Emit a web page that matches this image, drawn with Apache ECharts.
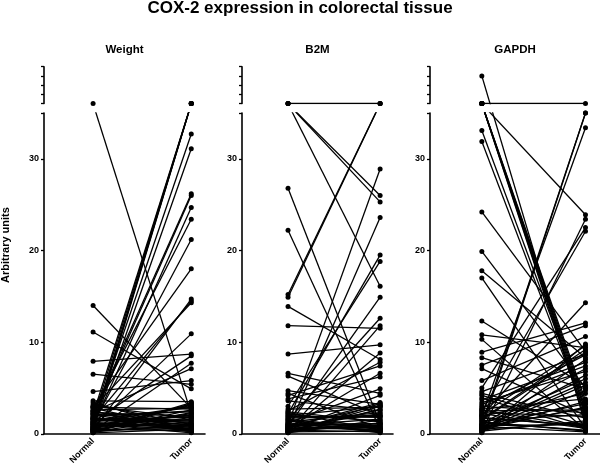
<!DOCTYPE html>
<html><head><meta charset="utf-8">
<script src="https://cdn.jsdelivr.net/npm/echarts@6/dist/echarts.min.js"></script>
<style>html,body{margin:0;padding:0;background:#fff}#c{width:600px;height:467px}</style>
</head><body><div id="c"></div>
<script>
const chartTitle = 'COX-2 expression in colorectal tissue';
const yAxisName = 'Arbitrary units';
const groupLabels = ['Normal', 'Tumor'];
const panelTitles = ['Weight', 'B2M', 'GAPDH'];
const yTickLabels = [0, 10, 20, 30];

const weightNormal = [0.5,1.0,1.6,0.8,2.1, 1.2,0.6,2.2,1.8,0.9,2.5,1.1,3.0, 0.4,1.6,2.8,0.7,7.9,1.3,0.3,2.4, 6.5,11.1,14.0,36,4.6,3.6,3.2,
  0.1,0.2,0.3,0.5,0.6,0.8,1.0,1.2,1.4,1.6,1.8,2.0,2.2,2.4,2.6,2.8,3.0, 0.2,0.4,0.7,0.9,1.1,1.3,1.5,1.7,1.9,2.1,2.3, 0.1,0.3,0.5,0.6,1.0,1.4,2.5,2.9, 0.2,0.8,1.2,1.6,3.4,0.4];
const weightTumor = [36,36,36,36,36, 32.7,31.1,26.2,26.0,24.7,23.4,21.2,18.0, 14.7,14.5,14.3,10.9,8.7,8.5,7.7,7.1, 5.4,4.9,2.8,2.2,5.8,3.5,1.0,
  0.5,1.8,2.6,0.3,3.2,1.2,2.0,0.8,3.0,1.5,0.2,2.4,0.9,1.1,2.8,0.4,1.7, 3.4,0.6,2.2,1.0,0.1,2.9,1.4,0.7,2.5,0.3,1.9, 3.3,0.9,1.6,2.1,0.5,1.3,0.2,2.7, 1.0,3.1,0.6,1.8,0.3,2.3];

const b2mNormal = [36,36,36,36, 15.2,14.9, 26.8,22.2, 1.0,0.5,2.2,3.0,0.8,1.5,11.8,0.2,8.7,0.3,13.9,2.5,4.2,0.6,3.8,1.2,6.6,6.3,4.7,0.4,2.0,
  0.1,0.2,0.4,0.5,0.7,0.9,1.1,1.3,1.6,1.9,2.3,2.7, 0.3,0.6,0.8,1.0,1.4,1.8,2.1, 0.2,0.5,0.9,1.2,0.1,0.3,0.7,1.5,2.4, 4.4,3.6,0.4,1.7,0.6,0.2,0.8,1.0];
const b2mTumor = [36,26.0,25.3,16.1, 36,36, 1.1,0.5, 28.9,23.6,19.5,18.8,14.9,12.6,11.5,11.8,9.7,8.8,8.1,7.8,7.4,6.6,6.2,4.9,4.4,2.0,3.2,4.2,3.0,
  1.5,0.3,2.6,0.8,3.4,1.1,0.2,2.3,0.6,1.8,0.4,2.9, 1.2,0.5,3.1,0.9,0.1,2.0,1.4, 2.7,0.7,1.6,0.3,3.3,1.0,2.2,0.5,1.3, 0.6,2.5,0.2,1.9,0.8,3.0,0.4,1.1];

const gapdhNormal = [39,36, 36,36,36,36,36,36,36,33.1,31.9, 1.0,0.6,2.0, 24.2,19.9,17.8,17.0,12.3,2.0, 10.8,10.3,8.9,8.3,7.5,7.1,5.8,4.6,4.2,3.7,3.2,2.7, 5.0,2.4,0.3,
  0.1,0.2,0.4,0.5,0.7,0.9,1.1,1.3,1.6,1.9,2.2,2.5,2.8, 0.3,0.6,0.8,1.0,1.4,1.8,2.1, 4.4,3.9,3.4,3.0, 0.2,0.5,0.9,1.2,1.5,2.3,2.6, 0.4,0.7,1.7];
const gapdhTumor = [1.0,36, 3.6,3.2,2.8,2.4,1.9,1.5,23.9,2.6,2.2, 35.0,35.0,33.4, 9.0,5.0,8.3,0.6,5.2,14.3, 9.4,0.4,12.1,4.9,11.8,2.0,10.6,8.7,0.9,7.8,7.4,3.8, 22.5,22.1,23.4,
  9.8,8.1,6.4,2.9,5.6,1.0,7.1,0.3,9.2,4.4,0.6,2.6,8.6, 1.4,3.5,0.2,6.0,2.1,0.8,9.6, 1.7,0.5,6.8,2.3, 4.7,1.2,3.3,0.4,8.9,1.9,0.7, 5.3,2.8,0.9];

const FONT = '"Liberation Sans", Arial, Helvetica, sans-serif';
const panels = [
  { title: panelTitles[0], normal: weightNormal, tumor: weightTumor, left: 44, width: 161 },
  { title: panelTitles[1], normal: b2mNormal, tumor: b2mTumor, left: 242, width: 151 },
  { title: panelTitles[2], normal: gapdhNormal, tumor: gapdhTumor, left: 430, width: 170 }
];
const LOW_TOP = 113, LOW_H = 322, UP_TOP = 66.7, UP_H = 36.8;
const axisLineStyle = { color: '#000', width: 1.6 };

const grid = [], xAxis = [], yAxis = [], series = [];
const graphic = [];
panels.forEach((p, i) => {
  grid.push({ left: p.left, top: LOW_TOP, width: p.width, height: LOW_H });
  grid.push({ left: p.left, top: UP_TOP, width: p.width, height: UP_H });
  xAxis.push({
    gridIndex: 2 * i, type: 'value', min: -0.5, max: 1.14, interval: 0.5,
    axisLine: { show: true, onZero: false, lineStyle: axisLineStyle },
    axisTick: { show: false }, splitLine: { show: false },
    axisLabel: { show: true, rotate: 45, margin: 6, color: '#000', fontFamily: FONT, fontWeight: 'bold', fontSize: 9,
      showMaxLabel: false, showMinLabel: false,
      formatter: v => (v === 0 ? groupLabels[0] : (v === 1 ? groupLabels[1] : '')) }
  });
  xAxis.push({ gridIndex: 2 * i + 1, type: 'value', min: -0.5, max: 1.14, show: false });
  yAxis.push({
    gridIndex: 2 * i, type: 'value', min: 0, max: 35, interval: 10,
    axisLine: { show: true, onZero: false, lineStyle: axisLineStyle },
    axisTick: { show: true, length: 3, lineStyle: { color: '#000', width: 1.3 } },
    axisLabel: { color: '#000', fontFamily: FONT, fontWeight: 'bold', fontSize: 9, margin: 5,
      formatter: v => (yTickLabels.indexOf(v) >= 0 ? String(v) : '') },
    splitLine: { show: false }
  });
  yAxis.push({
    gridIndex: 2 * i + 1, type: 'value', min: 36, max: 40, interval: 1,
    axisLine: { show: true, onZero: false, lineStyle: axisLineStyle },
    axisTick: { show: true, length: 3, lineStyle: { color: '#000', width: 1.3 } },
    axisLabel: { show: false }, splitLine: { show: false }
  });
  p.normal.forEach((n, j) => {
    const d = [[0, n], [1, p.tumor[j]]];
    [2 * i, 2 * i + 1].forEach(g => {
      series.push({
        type: 'line', xAxisIndex: g, yAxisIndex: g, data: d,
        symbol: 'circle', symbolSize: 5, showSymbol: true, clip: true, silent: true,
        animation: false, lineStyle: { color: '#000', width: 1.3 }, itemStyle: { color: '#000' },
        emphasis: { disabled: true }
      });
    });
  });
  graphic.push({
    type: 'text', x: p.left + p.width / 2, y: 50,
    style: { text: p.title, fontFamily: FONT, fontWeight: 'bold', fontSize: 11.5, fill: '#000',
      textAlign: 'center', textVerticalAlign: 'middle' }
  });
});
graphic.push({
  type: 'text', x: 6, y: 245, rotation: Math.PI / 2,
  style: { text: yAxisName, fontFamily: FONT, fontWeight: 'bold', fontSize: 11, fill: '#000',
    textAlign: 'center', textVerticalAlign: 'middle' }
});

const chart = echarts.init(document.getElementById('c'), null, { renderer: 'canvas' });
chart.setOption({
  backgroundColor: '#fff',
  animation: false,
  title: { text: chartTitle, left: 'center', top: 0, padding: 0,
    textStyle: { fontFamily: FONT, fontWeight: 'bold', fontSize: 17, color: '#000' } },
  tooltip: { show: false },
  grid, xAxis, yAxis, series, graphic
});
</script></body></html>
